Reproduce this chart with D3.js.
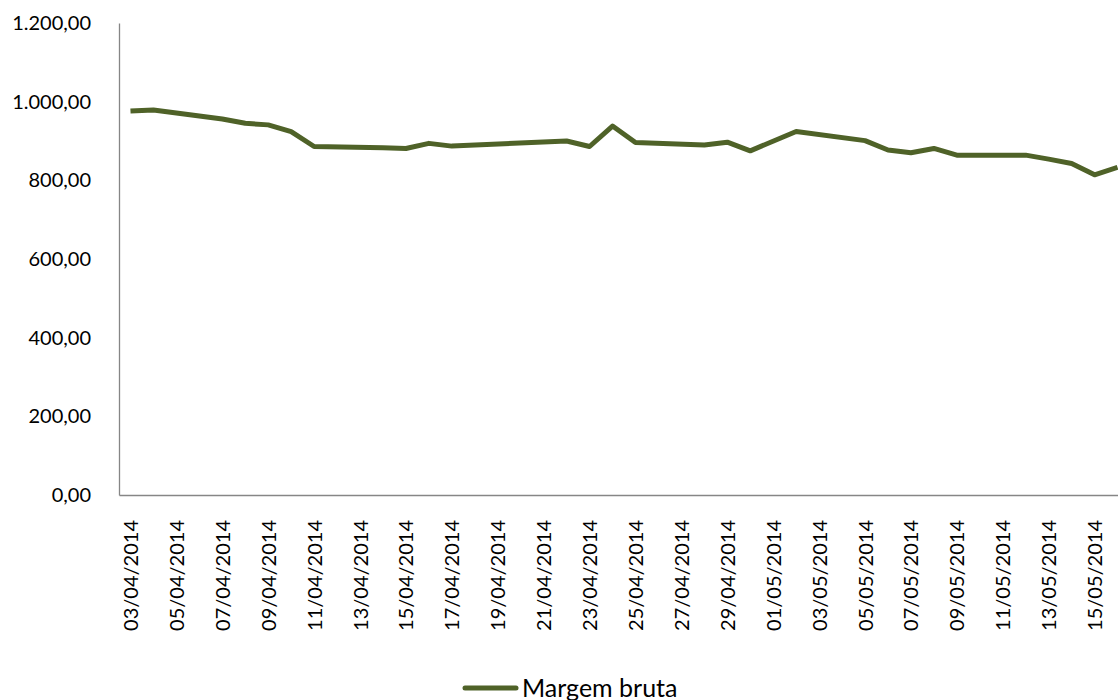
<!DOCTYPE html>
<html>
<head>
<meta charset="UTF-8">
<title></title>
<style type="text/css">
	body { margin: 0; background: #fff; }
	svg { display: block; }
</style>
</head>
<body>
<svg class="chart"></svg>
<script src="https://cdn.jsdelivr.net/npm/d3@7"></script>
<script type="text/javascript">
	// dias úteis com valor
	var dates = ["03/04/2014", "04/04/2014", "07/04/2014", "08/04/2014", "09/04/2014", "10/04/2014",
		"11/04/2014", "14/04/2014", "15/04/2014", "16/04/2014", "17/04/2014", "22/04/2014",
		"23/04/2014", "24/04/2014", "25/04/2014", "28/04/2014", "29/04/2014", "30/04/2014",
		"02/05/2014", "05/05/2014", "06/05/2014", "07/05/2014", "08/05/2014", "09/05/2014",
		"12/05/2014", "13/05/2014", "14/05/2014", "15/05/2014", "16/05/2014"];
	var margemBruta = [976, 979, 956, 945, 941, 924, 886, 883, 881, 894, 887, 900, 886, 938, 896,
		890, 897, 875, 924, 901, 877, 870, 881, 864, 864, 854, 843, 814, 833];
	var xTickLabels = ["03/04/2014", "05/04/2014", "07/04/2014", "09/04/2014", "11/04/2014",
		"13/04/2014", "15/04/2014", "17/04/2014", "19/04/2014", "21/04/2014", "23/04/2014",
		"25/04/2014", "27/04/2014", "29/04/2014", "01/05/2014", "03/05/2014", "05/05/2014",
		"07/05/2014", "09/05/2014", "11/05/2014", "13/05/2014", "15/05/2014"];
	var yTicks = [0, 200, 400, 600, 800, 1000, 1200];
	var seriesName = "Margem bruta";

	var width = 1118, height = 700;
	var plotLeft = 119, plotRight = 1129, plotTop = 23, plotBottom = 495;
	var color = "#4F6228";
	var axisColor = "#868686";
	var font = "Lato, 'Open Sans', sans-serif";

	var parse = d3.utcParse("%d/%m/%Y");
	var half = 12 * 3600 * 1000;
	var pt = d3.formatLocale({ decimal: ",", thousands: ".", grouping: [3], currency: ["R$", ""] });
	var fmt = pt.format(",.2f");

	var data = dates.map(function(d, i) {
		return { date: parse(d), value: margemBruta[i] };
	});

	var svg = d3.select(".chart").attr("width", width).attr("height", height);

	var x = d3.scaleUtc()
		.domain([new Date(parse(dates[0]).getTime() - half), new Date(parse(dates[dates.length - 1]).getTime() + half)])
		.range([plotLeft, plotRight]);
	var y = d3.scaleLinear().domain([0, 1200]).range([plotBottom, plotTop]);

	// eixo y
	var yAxis = svg.append("g")
		.attr("transform", "translate(" + plotLeft + ",0)")
		.call(d3.axisLeft(y).tickValues(yTicks).tickFormat(fmt).tickSize(0).tickPadding(28));
	yAxis.attr("font-family", font).attr("font-size", 20);
	yAxis.select(".domain").attr("stroke", axisColor).attr("stroke-width", 1.3);
	yAxis.selectAll("text").attr("fill", "#000");

	// eixo x
	var xAxis = svg.append("g")
		.attr("transform", "translate(0," + plotBottom + ")")
		.call(d3.axisBottom(x).tickValues(xTickLabels.map(parse)).tickFormat(d3.utcFormat("%d/%m/%Y")).tickSize(0));
	xAxis.attr("font-family", font).attr("font-size", 20);
	xAxis.select(".domain").attr("stroke", axisColor).attr("stroke-width", 1.3);
	xAxis.selectAll("text")
		.attr("fill", "#000")
		.attr("text-anchor", "end")
		.attr("transform", "rotate(-90)")
		.attr("x", -25)
		.attr("y", 0)
		.attr("dy", "0.35em");

	// linha
	var line = d3.line()
		.x(function(d) { return x(d.date); })
		.y(function(d) { return y(d.value); });

	svg.append("path")
		.datum(data)
		.attr("d", line)
		.attr("fill", "none")
		.attr("stroke", color)
		.attr("stroke-width", 5)
		.attr("stroke-linejoin", "round");

	// legenda
	var leg = svg.append("g").attr("transform", "translate(465,688)");
	leg.append("line")
		.attr("x1", 0).attr("x2", 51)
		.attr("y1", 0).attr("y2", 0)
		.attr("stroke", color)
		.attr("stroke-width", 5)
		.attr("stroke-linecap", "round");
	leg.append("text")
		.attr("x", 57)
		.attr("y", 0)
		.attr("dy", "0.35em")
		.attr("font-family", font)
		.attr("font-size", 25)
		.text(seriesName);
</script>
</body>
</html>
